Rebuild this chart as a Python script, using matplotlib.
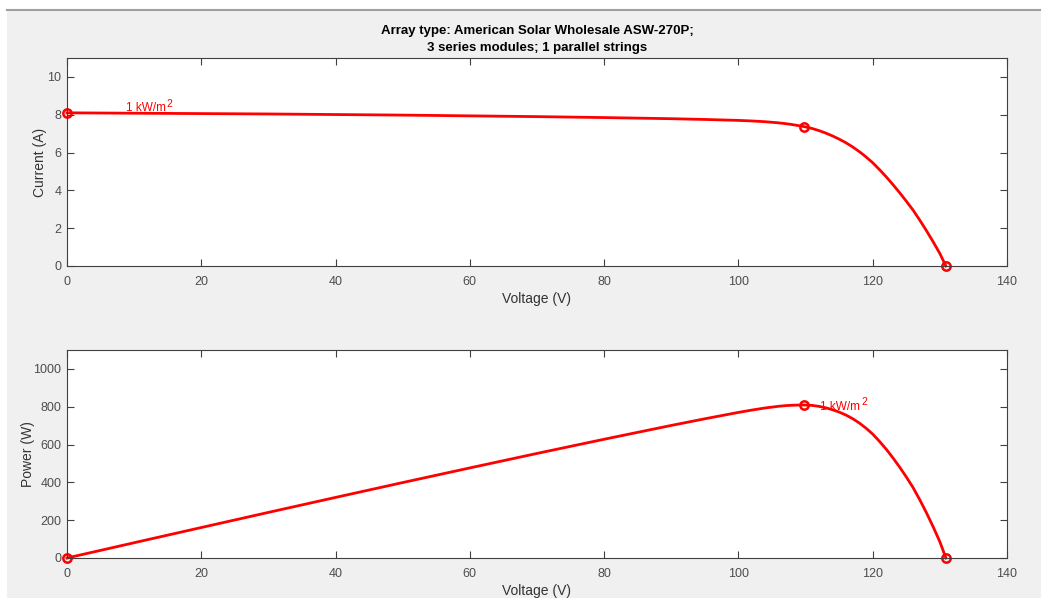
import numpy as np
import matplotlib
matplotlib.use('Agg')
import matplotlib.pyplot as plt
from matplotlib.patches import Rectangle
from matplotlib.lines import Line2D

plt.rcParams['font.family'] = ['Liberation Sans', 'DejaVu Sans']

# I-V curve
voltage = [0, 10, 20, 30, 40, 50, 60, 70, 80, 90, 95, 100, 102, 104, 106, 107, 108, 109,
           109.8, 111, 112, 113, 114, 115, 116, 117, 118, 119, 120, 121, 122, 123, 124,
           125, 126, 127, 128, 129, 130, 130.9]
current = [8.10, 8.08, 8.06, 8.04, 8.01, 7.98, 7.94, 7.90, 7.85, 7.79, 7.75, 7.70, 7.67,
           7.63, 7.57, 7.53, 7.48, 7.42, 7.37, 7.27, 7.16, 7.03, 6.88, 6.71, 6.52, 6.30,
           6.05, 5.77, 5.46, 5.10, 4.72, 4.31, 3.88, 3.43, 2.96, 2.43, 1.87, 1.28, 0.66, 0.0]
power = [v * i for v, i in zip(voltage, current)]

# marked points: short circuit, max power, open circuit
mark_v = [0, 109.8, 130.9]
mark_i = [8.10, 7.37, 0.0]
mark_p = [0, 810, 0]

title = 'Array type: American Solar Wholesale ASW-270P;\n3 series modules; 1 parallel strings'

W, H = 1041, 598
fig = plt.figure(figsize=(W / 100, H / 100), dpi=100, facecolor='white')

# grey window background with frame line
fig.patches.append(Rectangle((7 / W, 0), 1, (H - 10) / H, transform=fig.transFigure,
                             facecolor='#f0f0f0', edgecolor='none', zorder=-10))
fig.lines.append(Line2D([7 / W, 1], [(H - 10) / H] * 2, transform=fig.transFigure,
                        color='#a0a0a0', lw=1.5))

red = '#ff0000'
tick_col = '#4d4d4d'
spine_col = '#404040'


def style(ax):
    ax.set_facecolor('white')
    ax.set_xlim(0, 140)
    ax.set_xticks(range(0, 141, 20))
    ax.tick_params(direction='in', length=5, width=0.8, top=True, right=True,
                   labelsize=9, colors=spine_col, labelcolor=tick_col, pad=4)
    ax.tick_params(axis='x', pad=7)
    for s in ax.spines.values():
        s.set_color(spine_col)
        s.set_linewidth(0.8)
    ax.set_xlabel('Voltage (V)', fontsize=10, color='#333333', labelpad=3)


def irr_label(ax, x, y, va):
    # "1 kW/m" with a full-size raised "2", like the MATLAB label
    t = ax.text(x, y, '1 kW/m', color=red, fontsize=8.5, va=va)
    ax.annotate('2', xy=(1, 0.45), xycoords=t, xytext=(0.5, 0), textcoords='offset points',
                color=red, fontsize=7.5, va='bottom', ha='left')


ax1 = fig.add_axes([67 / W, (H - 266) / H, 940 / W, 208 / H])
style(ax1)
ax1.set_ylim(0, 11)
ax1.set_yticks(range(0, 11, 2))
ax1.plot(voltage, current, color=red, lw=2, clip_on=False)
ax1.plot(mark_v, mark_i, 'o', mfc='none', mec=red, mew=1.8, ms=6, clip_on=False)
irr_label(ax1, 8.8, 8.2, 'baseline')
ax1.set_ylabel('Current (A)', fontsize=10, color='#333333', labelpad=0)
ax1.set_title(title, fontsize=9.5, fontweight='bold', color='black', pad=5, linespacing=1.6)

ax2 = fig.add_axes([67 / W, (H - 558) / H, 940 / W, 208 / H])
style(ax2)
ax2.set_ylim(0, 1100)
ax2.set_yticks(range(0, 1001, 200))
ax2.plot(voltage, power, color=red, lw=2, clip_on=False)
ax2.plot(mark_v, mark_p, 'o', mfc='none', mec=red, mew=1.8, ms=6, clip_on=False)
irr_label(ax2, 112.2, 800, 'center')
ax2.set_ylabel('Power (W)', fontsize=10, color='#333333', labelpad=-1)

fig.savefig('out.png', dpi=100, facecolor=fig.get_facecolor())
